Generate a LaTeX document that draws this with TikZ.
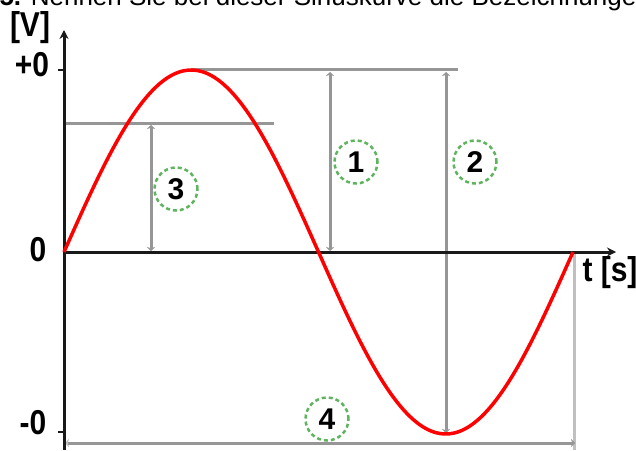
\documentclass[tikz,border=0pt]{standalone}
\usepackage{fontspec}
\setmainfont{Liberation Sans}
\usetikzlibrary{arrows.meta}
\definecolor{CurveRed}{RGB}{255,0,0}
\definecolor{guidegrey}{RGB}{150,150,150}
\definecolor{lightgrey}{RGB}{192,192,192}
\definecolor{markgreen}{RGB}{95,180,95}
\definecolor{axisgrey}{RGB}{25,25,25}

\begin{document}
\begin{tikzpicture}[
  x=1pt, y=1pt,
  font=\fontsize{30}{32}\selectfont\bfseries,
  axis/.style={draw=axisgrey, line width=3pt, -{Stealth[length=9pt,width=9pt]}},
  guide/.style={draw=guidegrey, line width=3pt},
  measure/.style={guide, {Stealth[length=4pt,width=8pt]}-{Stealth[length=4pt,width=8pt]}},
  tag/.style={circle, draw=markgreen, line width=2.5pt, dash pattern=on 4pt off 3pt, minimum size=43pt, inner sep=0pt},
  axislabel/.style={yscale=1.15},
]
\clip (-64,-198) rectangle (572,252);

% Title (cut off at the top)
\node[anchor=base west, font=\fontsize{26}{28}\selectfont] (title) at (-68,246)
  {\textbf{5.} Nennen Sie bei dieser Sinuskurve die Bezeichnungen};

% Key points
\coordinate (O) at (0,0);
\coordinate (ytop) at (0,222);
\coordinate (ybot) at (0,-198);
\coordinate (xend) at (552,0);
\coordinate (peak) at (127.25,182);
\coordinate (peakend) at (394,182);
\coordinate (periodend) at (509,0);

% Guide lines
\draw[guide] (peak) -- (peakend);
\draw[guide] (0,129) coordinate (lvlA) -- (210,129) coordinate (lvlB);
\draw[lightgrey, line width=3pt] (510,0) coordinate (perA) -- (510,-198) coordinate (perB);

% Measuring arrows
\draw[measure] (87,1) coordinate (m3a) -- (87,127) coordinate (m3b);
\draw[measure] (266,1) coordinate (m1a) -- (266,180) coordinate (m1b);
\draw[measure] (382,-181) coordinate (m2a) -- (382,180) coordinate (m2b);
\draw[measure, {Stealth[length=4pt,width=8pt,color=lightgrey]}-{Stealth[length=4pt,width=8pt]}]
  (1,-191) coordinate (m4a) -- (511,-191) coordinate (m4b);

% Axes and ticks
\draw[axis] (ybot) -- (ytop);
\draw[axis] (O) -- (xend);
\draw[axisgrey, line width=2pt] (-6,182) -- (0,182);
\draw[axisgrey, line width=2pt] (-6,-180) -- (0,-180);

% Sine curve (one period = 509)
\draw[CurveRed, line width=3.5pt] plot[domain=0:360, samples=120, smooth] ({\x*1.41389}, {182*sin(\x)});

% Axis labels
\node[axislabel] (vunit) at (-34,224) {[V]};
\node[axislabel] (vmax) at (-32,187) {+0};
\node[axislabel] (vzero) at (-26,2) {0};
\node[axislabel] (vmin) at (-31,-171) {-0};
\node[axislabel] (tunit) at (546,-21) {t [s]};

% Numbered tags
\node[tag] (tag1) at (292,90) {1};
\node[tag] (tag2) at (411,90) {2};
\node[tag] (tag3) at (112,63) {3};
\node[tag] (tag4) at (263,-167) {4};

\end{tikzpicture}
\end{document}
